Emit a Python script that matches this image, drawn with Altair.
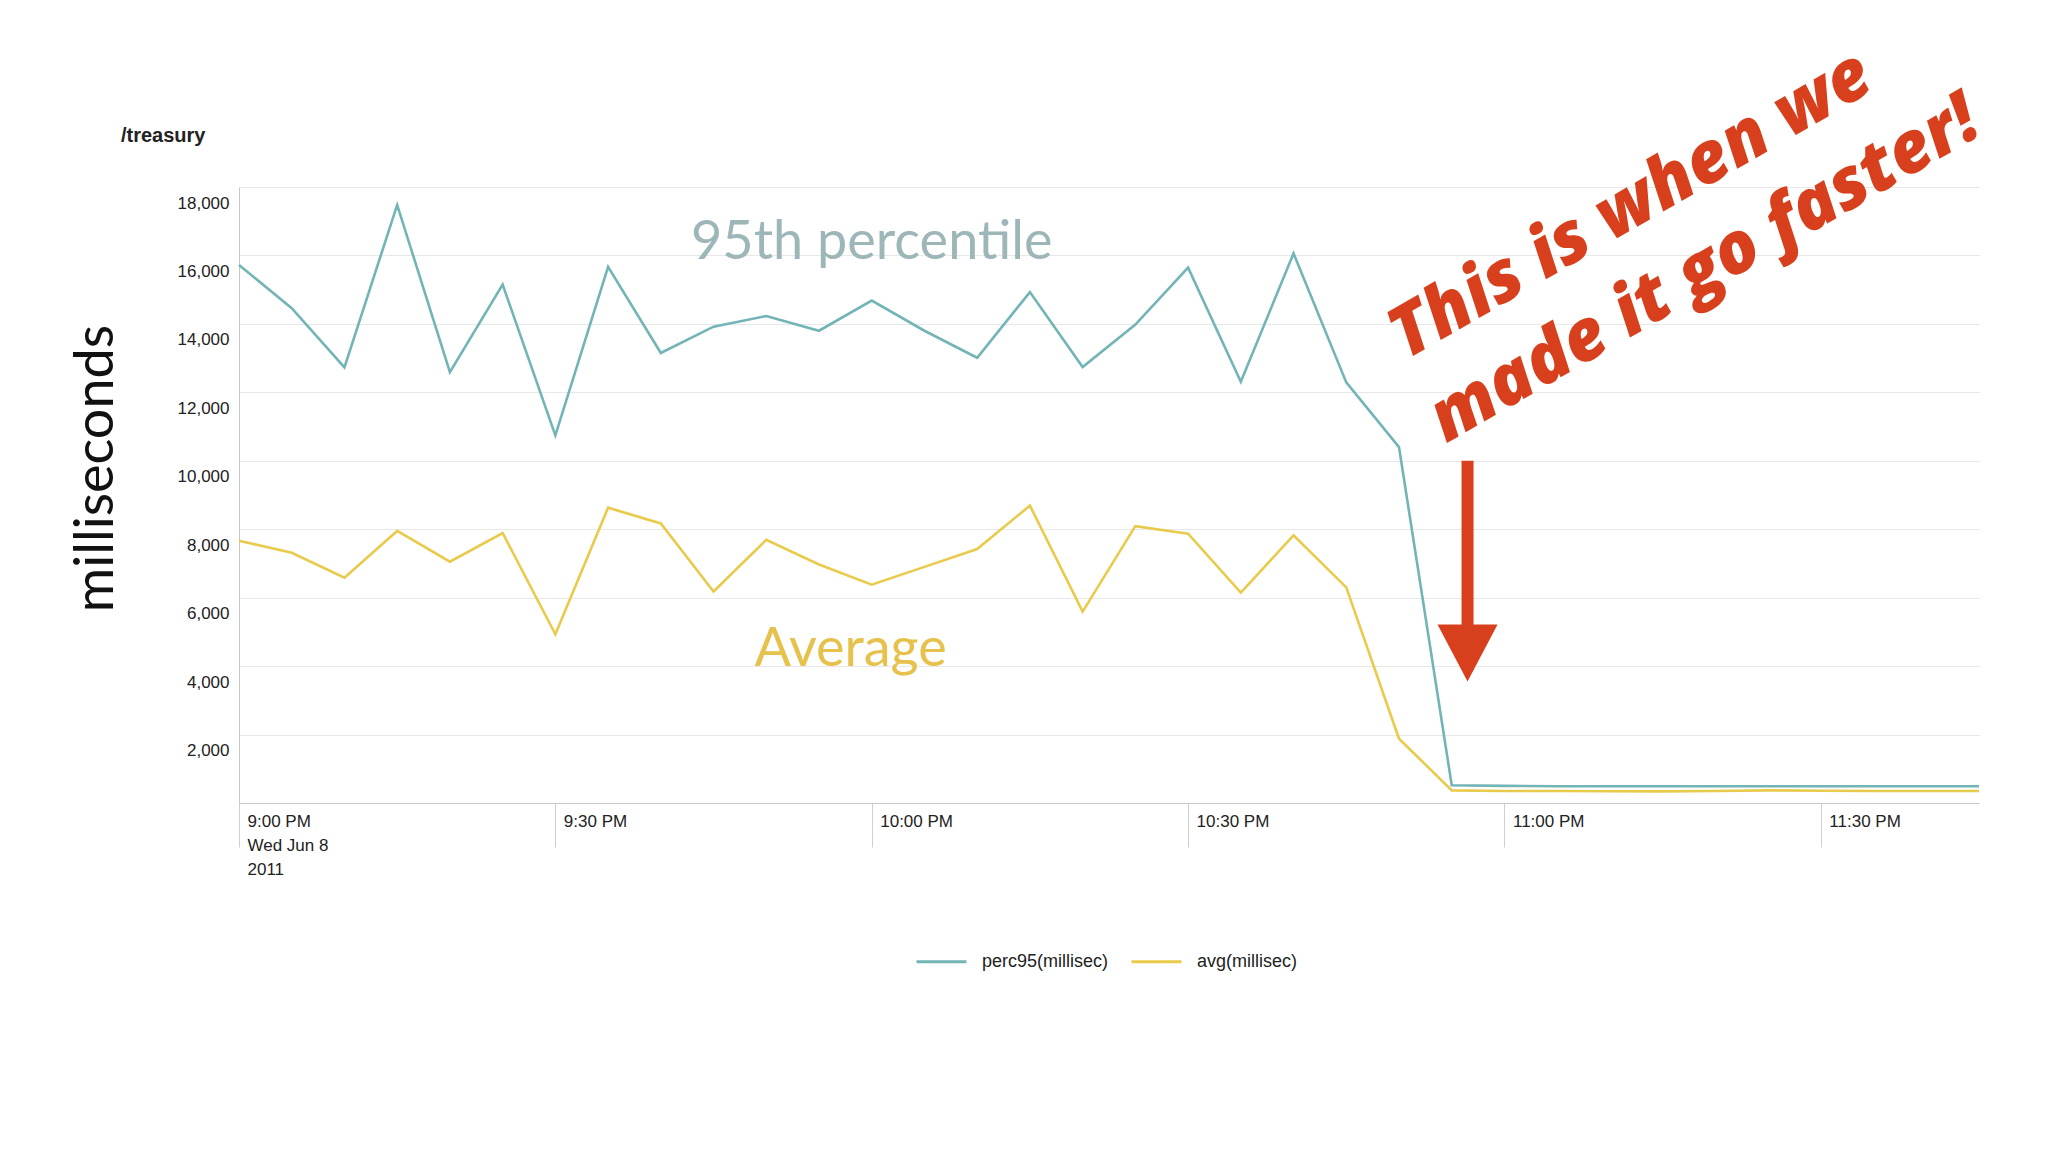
import json
import altair as alt
import pandas as pd

# ---------------- data ----------------
times = ["21:00", "21:05", "21:10", "21:15", "21:20", "21:25", "21:30", "21:35",
         "21:40", "21:45", "21:50", "21:55", "22:00", "22:05", "22:10", "22:15",
         "22:20", "22:25", "22:30", "22:35", "22:40", "22:45", "22:50", "22:55",
         "23:00", "23:05", "23:10", "23:15", "23:20", "23:25", "23:30", "23:35",
         "23:40", "23:45"]
perc95 = [15720, 14460, 12730, 17475, 12590, 15150, 10740, 15665,
          13150, 13920, 14230, 13800, 14680, 13800, 13010, 14930,
          12740, 13980, 15645, 12310, 16060, 12290, 10400, 520,
          500, 490, 490, 490, 490, 490, 490, 490,
          490, 490]
avg = [7665, 7310, 6585, 7950, 7050, 7890, 4930, 8630,
       8170, 6180, 7690, 6970, 6380, 6900, 7420, 8690,
       5590, 8090, 7870, 6150, 7820, 6300, 1880, 370,
       350, 350, 345, 340, 350, 370, 360, 350,
       350, 350]
series_names = ["perc95(millisec)", "avg(millisec)"]
series_colors = ["#73b4b7", "#e8cb4c"]

y_ticks = [2000, 4000, 6000, 8000, 10000, 12000, 14000, 16000, 18000]
x_tick_times = ["21:00", "21:30", "22:00", "22:30", "23:00", "23:30"]
x_tick_labels = [["9:00 PM", "Wed Jun 8", "2011"], ["9:30 PM"], ["10:00 PM"],
                 ["10:30 PM"], ["11:00 PM"], ["11:30 PM"]]
x_domain = ["21:00", "23:45"]

label_texts = ["95th percentile", "Average"]
label_times = ["22:00", "21:58"]
label_values = [15900, 4000]
label_colors = ["#9db6b7", "#e6c14b"]

note_lines = ["This is when we", "made it go faster!"]
note_times = ["23:12:00", "23:19:00"]
note_values = [17445, 15575]
note_color = "#d8401d"

arrow_time = "22:56:30"
arrow_top = 10000
arrow_shaft_end = 5200
arrow_head_center = 4380

chart_title = "/treasury"
y_title = "milliseconds"

DAY = "2011-06-08T"


def ts(t):
    return DAY + (t if t.count(":") == 2 else t + ":00")


def dt(t):
    h, m = t.split(":")[:2]
    return alt.DateTime(year=2011, month=6, date=8, hours=int(h), minutes=int(m))


rows = []
for name, vals in zip(series_names, [perc95, avg]):
    for t, v in zip(times, vals):
        rows.append({"time": ts(t), "value": v, "series": name})
df = pd.DataFrame(rows)

# x label expression built from the tick lists
expr = "''"
for t, lab in reversed(list(zip(x_tick_times, x_tick_labels))):
    h, m = t.split(":")
    txt = json.dumps(lab if len(lab) > 1 else lab[0]).replace('"', "'")
    expr = f"(hours(datum.value)=={int(h)} && minutes(datum.value)=={int(m)}) ? {txt} : {expr}"

x_scale = alt.Scale(domain=[dt(x_domain[0]), dt(x_domain[1])], nice=False)
y_scale = alt.Scale(domain=[0, 18000], nice=False)

x_axis = alt.Axis(values=[dt(t) for t in x_tick_times], labelExpr=expr,
                  labelAlign="left", labelBaseline="top", labelOffset=8,
                  labelPadding=-34, tickSize=44, tickColor="#d0d0d0",
                  domainColor="#c8c8c8", grid=False, labelFont="Liberation Sans",
                  labelFontSize=17, labelColor="#222", labelLineHeight=24,
                  labelFlush=False, labelOverlap=False, labelBound=False, title=None)
y_axis = alt.Axis(values=y_ticks, labelExpr="format(datum.value, ',')",
                  ticks=False, labelPadding=10,
                  labelOffset=16, labelBaseline="middle",
                  labelFont="Liberation Sans", labelFontSize=17, labelColor="#222",
                  domainColor="#c8c8c8", gridColor="#e8e8e8", gridWidth=1,
                  title=y_title, titleFont="Lato", titleFontSize=54,
                  titleFontWeight="normal", titleColor="#111", titleX=-143,
                  titleY=281, titleAngle=270, titleAlign="center",
                  titleBaseline="middle")

X = alt.X("time:T", scale=x_scale, axis=x_axis)
Y = alt.Y("value:Q", scale=y_scale, axis=y_axis)

lines = alt.Chart(df).mark_line(strokeWidth=2.6).encode(
    x=X, y=Y,
    color=alt.Color("series:N",
                    scale=alt.Scale(domain=series_names, range=series_colors),
                    sort=series_names,
                    legend=alt.Legend(orient="none", legendX=676, legendY=748,
                                      direction="horizontal", title=None,
                                      symbolType="stroke", symbolSize=2500,
                                      symbolStrokeWidth=3,
                                      labelFont="Liberation Sans", labelFontSize=18,
                                      labelColor="#222", labelOffset=14,
                                      columnPadding=16)),
)

lab_df = pd.DataFrame({"time": [ts(t) for t in label_times], "value": label_values,
                       "text": label_texts, "color": label_colors})
labels = alt.Chart(lab_df).mark_text(font="Lato", fontSize=54, align="center",
                                     baseline="alphabetic").encode(
    x=X, y=Y, text="text:N", color=alt.Color("color:N", scale=None))

note_df = pd.DataFrame({"time": [ts(t) for t in note_times], "value": note_values,
                        "text": note_lines})
notes = alt.Chart(note_df).mark_text(font="Open Sans", fontSize=71, fontWeight=800,
                                     fontStyle="italic", angle=330, align="center",
                                     baseline="middle", color=note_color).encode(
    x=X, y=Y, text="text:N")

arrow_df = pd.DataFrame({"time": [ts(arrow_time)], "value": [arrow_top],
                         "value2": [arrow_shaft_end], "head": [arrow_head_center]})
shaft = alt.Chart(arrow_df).mark_rule(strokeWidth=12, color=note_color).encode(
    x=X, y=Y, y2="value2:Q")
head = alt.Chart(arrow_df).mark_point(shape="M-1,-0.95L1,-0.95L0,0.95Z", size=3600,
                                      filled=True, opacity=1, color=note_color,
                                      strokeWidth=0).encode(
    x=X, y=alt.Y("head:Q", scale=y_scale, axis=y_axis))

title_df = pd.DataFrame({"text": [chart_title]})
title = alt.Chart(title_df).mark_text(font="Liberation Sans", fontSize=20,
                                      fontWeight="bold", color="#222", align="left",
                                      baseline="middle").encode(
    x=alt.value(-118), y=alt.value(-51), text="text:N")

chart = alt.layer(lines, labels, shaft, head, notes, title).properties(
    width=1740, height=616,
    autosize=alt.AutoSizeParams(type="none"),
    padding={"left": 231, "top": 179, "right": 60, "bottom": 220},
    background="white",
).configure_view(stroke=None)

chart.save("out.html", embed_options={"renderer": "svg", "actions": False})
